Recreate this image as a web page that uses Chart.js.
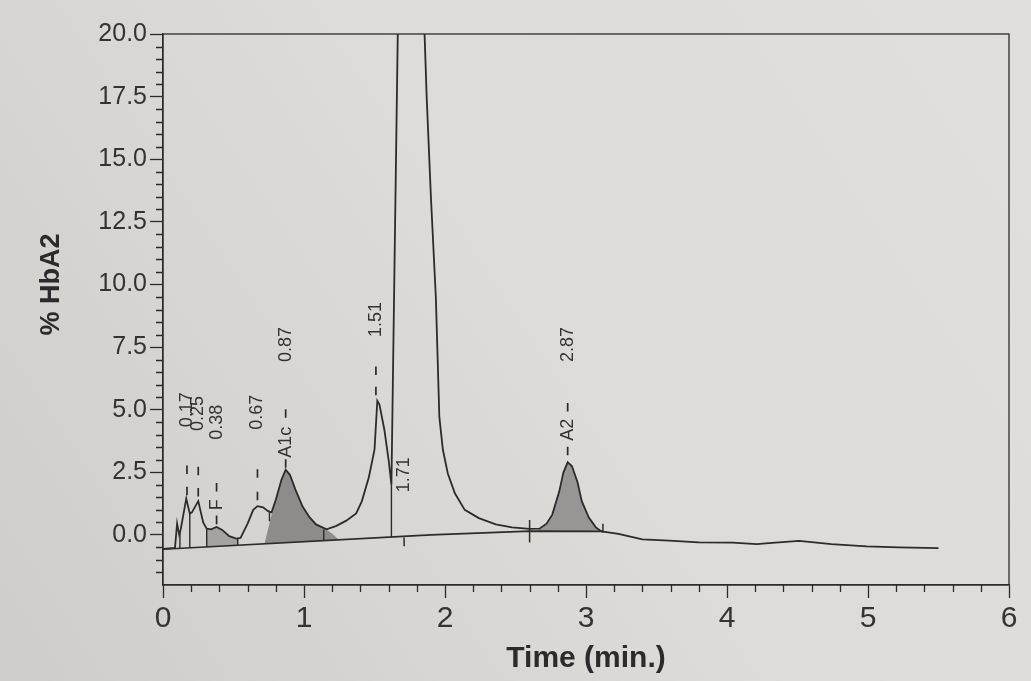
<!DOCTYPE html>
<html>
<head>
<meta charset="utf-8">
<title>% HbA2 chromatogram</title>
<script src="https://cdn.jsdelivr.net/npm/chart.js"></script>
<style>
  html, body { margin: 0; padding: 0; background: #dcdad6; }
</style>
</head>
<body>
<canvas id="myChart" width="1031" height="681"></canvas>

<script>
// detector trace: time (min) / % HbA2
var traceTime = [0.00, 0.085, 0.10, 0.115, 0.125, 0.165, 0.19, 0.205, 0.25, 0.285,
                 0.31, 0.34, 0.38, 0.42, 0.47, 0.52, 0.55, 0.60, 0.64, 0.67,
                 0.71, 0.745, 0.77, 0.80, 0.84, 0.87, 0.90, 0.94, 0.99, 1.04,
                 1.085, 1.16, 1.23, 1.30, 1.37, 1.41, 1.46, 1.50, 1.52, 1.535,
                 1.57, 1.60, 1.62, 1.665, 1.68, 1.74, 1.82, 1.855, 1.87, 1.90,
                 1.935, 1.96, 1.985, 2.02, 2.07, 2.14, 2.24, 2.36, 2.475, 2.60,
                 2.67, 2.72, 2.76, 2.81, 2.84, 2.87, 2.90, 2.94, 2.97, 3.02,
                 3.07, 3.11, 3.23, 3.40, 3.59, 3.80, 4.04, 4.21, 4.32, 4.51,
                 4.60, 4.74, 4.99, 5.22, 5.50];
var traceValue = [-0.56, -0.52, 0.45, 0.0, 0.2, 1.45, 0.85, 0.9, 1.35, 0.5,
                  0.25, 0.22, 0.32, 0.2, -0.05, -0.15, -0.12, 0.45, 1.0, 1.15,
                  1.1, 0.95, 0.9, 1.4, 2.2, 2.6, 2.4, 1.8, 1.13, 0.7,
                  0.42, 0.22, 0.36, 0.57, 0.86, 1.34, 2.3, 3.4, 5.35, 5.2,
                  4.2, 3.0, 2.0, 20, 30, 70, 30, 20, 17.5, 13.5,
                  9.5, 4.7, 3.4, 2.45, 1.66, 1.0, 0.67, 0.42, 0.3, 0.24,
                  0.25, 0.45, 0.8, 1.73, 2.5, 2.9, 2.75, 2.1, 1.35, 0.69,
                  0.3, 0.14, 0.04, -0.18, -0.23, -0.3, -0.31, -0.37, -0.32, -0.24,
                  -0.29, -0.37, -0.46, -0.5, -0.53];

// integration baseline
var baseTime = [0, 1.9, 2.6, 3.12];
var baseValue = [-0.57, 0.0, 0.15, 0.14];

// shaded peaks: F, A1c (skimmed), A2
var fWindow = [0.31, 0.53];
var a1cWindow = [0.79, 1.17];
var a1cLeadTime = [0.72, 0.75, 0.785];
var a1cLeadValue = [-0.35, 0.35, 1.15];
var a1cTailTime = [1.20, 1.25];
var a1cTailValue = [0.05, -0.2];
var a2Window = [2.66, 3.11];

// drop lines from trace to baseline
var dropTime = [0.12, 0.19, 0.31, 0.53, 0.755, 1.14, 1.62];
var dropTop = [0.1, 0.85, 0.25, -0.15, 0.93, 0.22, 2.0];
var dropBottom = [-0.53, -0.51, -0.48, -0.41, 0.55, -0.23, -0.08];

// small marks crossing the baseline
var markTime = [1.71, 2.60, 3.12];
var markLow = [-0.45, -0.3, 0.1];
var markHigh = [-0.1, 0.6, 0.45];

// short dashes above the peaks
var dashTime = [0.17, 0.17, 0.25, 0.25, 0.38, 0.38, 0.67, 0.67, 0.87, 0.87, 1.51, 1.51, 2.87, 2.87];
var dashValue = [1.75, 2.6, 1.7, 2.55, 0.6, 1.9, 1.55, 2.45, 2.85, 4.85, 5.75, 6.55, 3.35, 5.1];

// peak labels
var peakText = ['0.17', '0.25', '0.38', 'F', '0.67', 'A1c', '0.87', '1.51', '1.71', 'A2', '2.87'];
var peakTime = [0.17, 0.25, 0.38, 0.38, 0.67, 0.87, 0.87, 1.51, 1.71, 2.87, 2.87];
var peakLabelY = [5.0, 4.85, 4.5, 1.2, 4.9, 3.7, 7.6, 8.6, 2.4, 4.2, 7.6];

var xTickValues = [0, 1, 2, 3, 4, 5, 6];
var yTickValues = [0, 2.5, 5, 7.5, 10, 12.5, 15, 17.5, 20];
var yTickLabels = ['0.0', '2.5', '5.0', '7.5', '10.0', '12.5', '15.0', '17.5', '20.0'];

var ink = '#2b2b2b';

function pts(xs, ys) {
    return xs.map(function (x, i) { return {x: x, y: ys[i]}; });
}
function interp(xs, ys, x) {
    for (var i = 1; i < xs.length; i++) {
        if (x <= xs[i]) {
            var t = (x - xs[i - 1]) / (xs[i] - xs[i - 1]);
            return ys[i - 1] + t * (ys[i] - ys[i - 1]);
        }
    }
    return ys[ys.length - 1];
}
function traceBetween(a, b) {
    return pts(traceTime, traceValue).filter(function (p) { return p.x > a && p.x < b; });
}
function area(w) {
    var a = w[0], b = w[1];
    var p = [{x: a, y: interp(baseTime, baseValue, a)}, {x: a, y: interp(traceTime, traceValue, a)}]
        .concat(traceBetween(a, b))
        .concat([{x: b, y: interp(traceTime, traceValue, b)}, {x: b, y: interp(baseTime, baseValue, b)}]);
    p.push(p[0]);
    return p;
}
function a1cArea() {
    var p = pts(a1cLeadTime, a1cLeadValue)
        .concat(traceBetween(a1cWindow[0], a1cWindow[1]))
        .concat(pts(a1cTailTime, a1cTailValue));
    p.push(p[0]);
    return p;
}
function segs(xs, lo, hi) {
    var out = [];
    xs.forEach(function (x, i) {
        out.push({x: x, y: lo[i]}, {x: x, y: hi[i]}, {x: x, y: null});
    });
    return out;
}
function dashes() {
    return segs(dashTime, dashValue.map(function (v) { return v - 0.17; }),
                dashValue.map(function (v) { return v + 0.17; }));
}

var paperPlugin = {
    id: 'paper',
    beforeDraw: function (chart) {
        var c = chart.ctx;
        var g = c.createLinearGradient(0, 681, 1031, 0);
        g.addColorStop(0, '#cfcdc9');
        g.addColorStop(0.5, '#dddbd7');
        g.addColorStop(1, '#e1dfdb');
        c.save();
        c.fillStyle = g;
        c.fillRect(0, 0, chart.width, chart.height);
        c.restore();
    }
};

var decorPlugin = {
    id: 'decor',
    afterDraw: function (chart) {
        var c = chart.ctx, ca = chart.chartArea;
        var xs = chart.scales.x, ys = chart.scales.y;
        c.save();
        c.strokeStyle = ink;
        c.lineWidth = 1.3;
        c.strokeRect(ca.left, ca.top, ca.right - ca.left, ca.bottom - ca.top);
        // minor ticks
        c.beginPath();
        for (var v = -1.5; v < 20; v += 0.5) {
            if (Math.abs(v / 2.5 - Math.round(v / 2.5)) < 1e-6) continue;
            var py = Math.round(ys.getPixelForValue(v)) + 0.5;
            c.moveTo(ca.left - 7, py);
            c.lineTo(ca.left, py);
        }
        for (var k = 1; k < 30; k++) {
            if (k % 5 === 0) continue;
            var px = Math.round(xs.getPixelForValue(k * 0.2)) + 0.5;
            c.moveTo(px, ca.bottom);
            c.lineTo(px, ca.bottom + 7);
        }
        c.stroke();

        // y title, centred on the 0..20 range
        c.fillStyle = ink;
        c.font = 'bold 27px "Liberation Sans", Arial, sans-serif';
        c.textAlign = 'center';
        c.textBaseline = 'middle';
        c.translate(52, (ys.getPixelForValue(0) + ys.getPixelForValue(20)) / 2);
        c.rotate(-Math.PI / 2);
        c.fillText('% HbA2', 0, 0);
        c.restore();
    },
    afterDatasetsDraw: function (chart) {
        var c = chart.ctx;
        var xs = chart.scales.x, ys = chart.scales.y;
        c.save();
        c.fillStyle = '#333';
        c.font = '18px "Liberation Sans", Arial, sans-serif';
        c.textAlign = 'center';
        c.textBaseline = 'middle';
        peakText.forEach(function (t, i) {
            c.save();
            c.translate(xs.getPixelForValue(peakTime[i]), ys.getPixelForValue(peakLabelY[i]));
            c.rotate(-Math.PI / 2);
            c.fillText(t, 0, 0);
            c.restore();
        });
        c.restore();
    }
};

var lineStyle = {borderColor: ink, pointRadius: 0, fill: false, tension: 0, spanGaps: false};

var ctx = document.getElementById('myChart').getContext('2d');
var myChart = new Chart(ctx, {
    type: 'line',
    data: {
        datasets: [
            Object.assign({label: 'trace', data: pts(traceTime, traceValue), borderWidth: 1.8, order: 0}, lineStyle),
            Object.assign({label: 'baseline', data: pts(baseTime, baseValue), borderWidth: 1.6, order: 1}, lineStyle),
            Object.assign({label: 'drops', data: segs(dropTime, dropBottom, dropTop), borderWidth: 1.4, order: 1}, lineStyle),
            Object.assign({label: 'marks', data: segs(markTime, markLow, markHigh), borderWidth: 1.5, order: 1}, lineStyle),
            Object.assign({label: 'dashes', data: dashes(), borderWidth: 1.7, order: 1}, lineStyle),
            {label: 'F', data: area(fWindow), borderWidth: 0, pointRadius: 0, fill: 'shape',
             backgroundColor: '#a4a3a0', order: 5},
            {label: 'A1c', data: a1cArea(), borderWidth: 0, pointRadius: 0, fill: 'shape',
             backgroundColor: '#8d8c8a', order: 5},
            {label: 'A2', data: area(a2Window), borderWidth: 0, pointRadius: 0, fill: 'shape',
             backgroundColor: '#979694', order: 5}
        ]
    },
    options: {
        responsive: false,
        animation: false,
        layout: {padding: {top: 34, right: 22, left: 0, bottom: 0}},
        plugins: {legend: {display: false}, tooltip: {enabled: false}},
        scales: {
            x: {
                type: 'linear',
                min: 0,
                max: 6,
                afterFit: function (s) { s.height = 96; },
                afterBuildTicks: function (s) {
                    s.ticks = xTickValues.map(function (v) { return {value: v}; });
                },
                grid: {drawOnChartArea: false, tickLength: 13, tickColor: ink, tickWidth: 1.3},
                border: {display: true, color: ink, width: 1.3},
                ticks: {
                    color: '#333',
                    padding: 3,
                    maxRotation: 0,
                    font: {family: '"Liberation Sans Narrow", "Liberation Sans", Arial, sans-serif', size: 30},
                    callback: function (v) { return String(v); }
                },
                title: {
                    display: true,
                    text: 'Time (min.)',
                    color: ink,
                    padding: {top: 0, bottom: 4},
                    font: {family: '"Liberation Sans", Arial, sans-serif', size: 30, weight: 'bold'}
                }
            },
            y: {
                type: 'linear',
                min: -2,
                max: 20,
                afterFit: function (s) { s.width = 163; },
                afterBuildTicks: function (s) {
                    s.ticks = yTickValues.map(function (v) { return {value: v}; });
                },
                grid: {drawOnChartArea: false, tickLength: 13, tickColor: ink, tickWidth: 1.3},
                border: {display: true, color: ink, width: 1.3},
                ticks: {
                    color: '#333',
                    padding: 3,
                    font: {family: '"Liberation Sans", Arial, sans-serif', size: 25},
                    callback: function (v) {
                        var i = yTickValues.indexOf(v);
                        return i >= 0 ? yTickLabels[i] : '';
                    }
                }
            }
        }
    },
    plugins: [paperPlugin, decorPlugin]
});
</script>
</body>
</html>
